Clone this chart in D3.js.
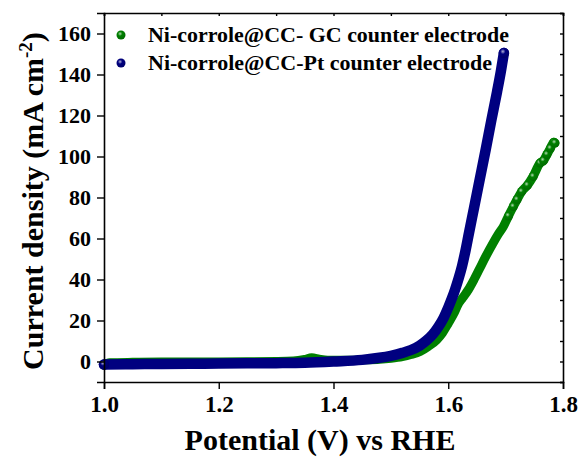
<!DOCTYPE html>
<html>
<head>
<meta charset="utf-8">
<script src="https://cdn.jsdelivr.net/npm/d3@7"></script>
<style>
  html, body { margin: 0; padding: 0; background: #fff; }
  svg { display: block; }
  text { font-family: "Liberation Serif", "Times New Roman", serif; font-weight: bold; }
</style>
</head>
<body>
<svg id="chart" width="582" height="459"></svg>
<script>
// LSV polarisation data: potential (V vs RHE) and current density (mA cm^-2)
const gcPotential = [1.000, 1.010, 1.050, 1.100, 1.150, 1.200, 1.250, 1.300, 1.330, 1.350, 1.362, 1.375, 1.390, 1.420, 1.450, 1.480, 1.500, 1.520, 1.535, 1.551, 1.565, 1.580, 1.590, 1.600, 1.610, 1.6175, 1.625, 1.635, 1.645, 1.655, 1.665, 1.678, 1.687, 1.696, 1.705, 1.7134, 1.720, 1.728, 1.738, 1.748, 1.760, 1.766, 1.772, 1.778, 1.784, 1.786];
const gcCurrent   = [-1.8, -0.6, -0.4, -0.3, -0.3, -0.2, -0.1, 0.0, 0.2, 1.0, 1.8, 1.1, 0.6, 0.6, 0.8, 1.1, 1.6, 2.4, 3.4, 4.9, 7.3, 10.6, 14.0, 18.6, 23.5, 28.0, 31.0, 35.0, 40.0, 45.5, 51.0, 57.7, 62.0, 65.8, 71.0, 75.6, 79.0, 82.9, 86.0, 90.3, 96.8, 98.0, 101.0, 104.0, 107.0, 106.6];

const ptPotential = [1.000, 1.050, 1.100, 1.150, 1.200, 1.250, 1.300, 1.350, 1.400, 1.450, 1.480, 1.500, 1.520, 1.535, 1.550, 1.562, 1.573, 1.583, 1.592, 1.600, 1.606, 1.612, 1.618, 1.624, 1.630, 1.636, 1.645, 1.655, 1.665, 1.675, 1.685, 1.692, 1.697];
const ptCurrent   = [-1.5, -1.3, -1.2, -1.1, -1.0, -0.9, -0.8, -0.6, 0.0, 0.8, 1.8, 2.8, 4.2, 5.6, 7.7, 10.2, 13.2, 17.0, 21.3, 26.3, 30.5, 35.2, 40.5, 46.5, 54.0, 62.5, 75.0, 89.0, 103.0, 117.5, 131.5, 142.0, 150.5];

const seriesNames  = ["Ni-corrole@CC- GC counter electrode", "Ni-corrole@CC-Pt counter electrode"];
const seriesColors = ["#008000", "#000080"];

const xTicks = [1.0, 1.2, 1.4, 1.6, 1.8];
const yTicks = [0, 20, 40, 60, 80, 100, 120, 140, 160];

const svg = d3.select("#chart");
const plot = { left: 104, right: 563, top: 13, bottom: 382 };

const x = d3.scaleLinear().domain([1.0, 1.8]).range([plot.left, plot.right]);
const y = d3.scaleLinear().domain([-10, 170]).range([plot.bottom, plot.top]);

// glossy ball markers
const defs = svg.append("defs");
seriesColors.forEach((c, i) => {
  const g = defs.append("radialGradient").attr("id", "ball" + i)
    .attr("cx", "40%").attr("cy", "36%").attr("r", "62%");
  g.append("stop").attr("offset", "0%").attr("stop-color", d3.interpolateRgb(c, "#fff")(0.7));
  g.append("stop").attr("offset", "40%").attr("stop-color", c);
  g.append("stop").attr("offset", "100%").attr("stop-color", d3.color(c).darker(0.5));
});

const series = [
  gcPotential.map((v, i) => ({ v, j: gcCurrent[i] })),
  ptPotential.map((v, i) => ({ v, j: ptCurrent[i] }))
];
const bandWidth = [9, 10.5];

const line = d3.line().x(d => x(d.v)).y(d => y(d.j)).curve(d3.curveMonotoneX);
const marks = svg.append("g");
series.forEach((pts, i) => {
  const g = marks.append("g");
  g.append("path").datum(pts).attr("d", line)
    .attr("fill", "none").attr("stroke", seriesColors[i])
    .attr("stroke-width", bandWidth[i]).attr("stroke-linecap", "round").attr("stroke-linejoin", "round");
  // the GC trace shows individual balls along its noisy upper part
  const balls = i === 0 ? pts.filter(d => d.v > 1.7) : [pts[0], pts[pts.length - 1]];
  g.selectAll("circle").data(balls).join("circle")
    .attr("cx", d => x(d.v)).attr("cy", d => y(d.j)).attr("r", bandWidth[i] / 2)
    .attr("fill", "url(#ball" + i + ")");
});

// axes: outward ticks on bottom/left, inward on top/right
const axBottom = svg.append("g").attr("transform", `translate(0,${plot.bottom})`);
axBottom.call(d3.axisBottom(x).tickValues(d3.range(1.0, 1.801, 0.1)).tickSize(4).tickFormat(""));
axBottom.call(d3.axisBottom(x).tickValues(xTicks).tickSize(7).tickFormat(d3.format(".1f")).tickPadding(7));
const axLeft = svg.append("g").attr("transform", `translate(${plot.left},0)`);
axLeft.call(d3.axisLeft(y).tickValues(d3.range(-10, 171, 10)).tickSize(4).tickFormat(""));
axLeft.call(d3.axisLeft(y).tickValues(yTicks).tickSize(7).tickFormat(d3.format("d")).tickPadding(6));
const axTop = svg.append("g").attr("transform", `translate(0,${plot.top})`);
axTop.call(d3.axisBottom(x).tickValues(d3.range(1.0, 1.801, 0.1)).tickSize(3).tickFormat(""));
const axRight = svg.append("g").attr("transform", `translate(${plot.right},0)`);
axRight.call(d3.axisLeft(y).tickValues(d3.range(-10, 171, 10)).tickSize(3).tickFormat(""));

[axBottom, axLeft, axTop, axRight].forEach(g => {
  g.selectAll(".domain").attr("stroke", "#000").attr("stroke-width", 1.6);
  g.selectAll(".tick line").attr("stroke", "#000").attr("stroke-width", 1.4);
  g.selectAll(".tick text").attr("fill", "#000")
    .style("font-family", "'Liberation Serif', serif").style("font-weight", "bold");
});
axBottom.selectAll(".tick text").style("font-size", "23px");
axLeft.selectAll(".tick text").style("font-size", "22px");

// axis titles
svg.append("text").attr("x", 320).attr("y", 450)
  .attr("text-anchor", "middle").style("font-size", "30px").text("Potential (V) vs RHE");

const yt = svg.append("text").attr("transform", "translate(43,201) rotate(-90)")
  .attr("text-anchor", "middle").style("font-size", "30px");
yt.append("tspan").text("Current density (mA cm");
yt.append("tspan").attr("dy", -11).style("font-size", "19px").text("-2");
yt.append("tspan").attr("dy", 11).text(")");

// legend
const legendWidths = [361, 344];
const legend = svg.append("g");
seriesNames.forEach((name, i) => {
  const cy = 35 + i * 28;
  legend.append("circle").attr("cx", 121).attr("cy", cy).attr("r", 4.5).attr("fill", "url(#ball" + i + ")");
  legend.append("text").attr("x", 148).attr("y", cy + 7).style("font-size", "22px")
    .attr("textLength", legendWidths[i]).attr("lengthAdjust", "spacingAndGlyphs").text(name);
});
</script>
</body>
</html>
